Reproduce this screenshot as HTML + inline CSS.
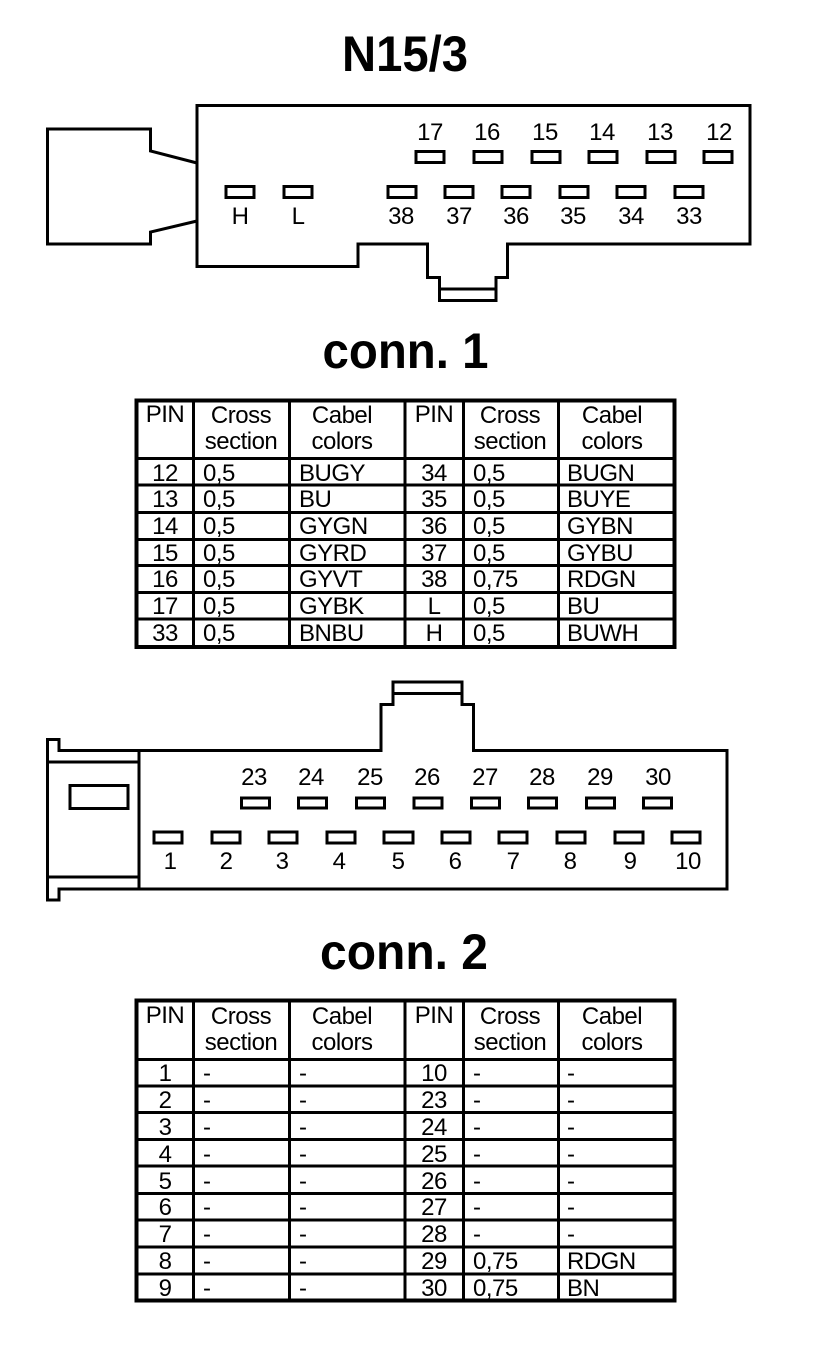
<!DOCTYPE html>
<html><head><meta charset="utf-8"><style>
html,body{margin:0;padding:0;background:#fff}
svg{display:block}
text{font-family:"Liberation Sans",Arial,sans-serif;font-size:24px;letter-spacing:-.5px;fill:#000;text-anchor:middle}
text.t{font-size:50px;font-weight:bold;letter-spacing:0}
text.l{text-anchor:start}
.s{fill:none;stroke:#000;stroke-width:3;stroke-linejoin:miter}
.g{stroke:#000;stroke-width:3;fill:none}
.b{fill:none;stroke:#000;stroke-width:4}
</style></head><body>
<svg width="816" height="1354" viewBox="0 0 816 1354" xmlns="http://www.w3.org/2000/svg">
<rect width="816" height="1354" fill="#fff"/>
<text class="t" x="405" y="71" textLength="126" lengthAdjust="spacingAndGlyphs">N15/3</text>
<text class="t" x="405.500" y="368" textLength="166" lengthAdjust="spacingAndGlyphs">conn. 1</text>
<text class="t" x="404" y="969" textLength="168" lengthAdjust="spacingAndGlyphs">conn. 2</text>

<!-- connector 1 -->
<path class="s" d="M197 105.500H750V244H507.500V277.500H496V300.500H439.500V277.500H427.500V244H358V266.500H197Z"/>
<path class="s" d="M439.500 289H496"/>
<path class="s" d="M197 163L150.500 151V129H47.500V244H150.500V232L197 221"/>
<g class="s">
<rect x="416" y="151.500" width="28" height="11"/><rect x="474" y="151.500" width="28" height="11"/><rect x="532" y="151.500" width="28" height="11"/><rect x="589" y="151.500" width="28" height="11"/><rect x="647" y="151.500" width="28" height="11"/><rect x="704" y="151.500" width="28" height="11"/>
<rect x="226" y="186.500" width="28" height="11"/><rect x="284" y="186.500" width="28" height="11"/><rect x="388" y="186.500" width="28" height="11"/><rect x="445" y="186.500" width="28" height="11"/><rect x="502" y="186.500" width="28" height="11"/><rect x="560" y="186.500" width="28" height="11"/><rect x="617" y="186.500" width="28" height="11"/><rect x="675" y="186.500" width="28" height="11"/>
</g>
<text x="430" y="140">17</text><text x="487" y="140">16</text><text x="545" y="140">15</text><text x="602" y="140">14</text><text x="660" y="140">13</text><text x="719" y="140">12</text>
<text x="240" y="224">H</text><text x="298" y="224">L</text><text x="401" y="224">38</text><text x="459" y="224">37</text><text x="516" y="224">36</text><text x="573" y="224">35</text><text x="631" y="224">34</text><text x="689" y="224">33</text>

<!-- table 1 -->
<rect class="b" x="136.500" y="400.500" width="538" height="246.500"/>
<path class="g" d="M193.500 400V647M289.500 400V647M405 400V647M463.500 400V647M558.500 400V647"/>
<path class="g" d="M136 458.500H675M136 485H675M136 512.500H675M136 539.500H675M136 565.500H675M136 592.500H675M136 619H675"/>
<g>
<text x="165" y="422">PIN</text><text x="241" y="423">Cross</text><text x="241" y="449">section</text><text x="342" y="423">Cabel</text><text x="342" y="449">colors</text>
<text x="434" y="422">PIN</text><text x="510" y="423">Cross</text><text x="510" y="449">section</text><text x="612" y="423">Cabel</text><text x="612" y="449">colors</text>

<text x="165" y="481">12</text><text class="l" x="203" y="481">0,5</text><text class="l" x="299" y="481">BUGY</text><text x="434" y="481">34</text><text class="l" x="473" y="481">0,5</text><text class="l" x="567" y="481">BUGN</text>
<text x="165" y="507">13</text><text class="l" x="203" y="507">0,5</text><text class="l" x="299" y="507">BU</text><text x="434" y="507">35</text><text class="l" x="473" y="507">0,5</text><text class="l" x="567" y="507">BUYE</text>
<text x="165" y="534">14</text><text class="l" x="203" y="534">0,5</text><text class="l" x="299" y="534">GYGN</text><text x="434" y="534">36</text><text class="l" x="473" y="534">0,5</text><text class="l" x="567" y="534">GYBN</text>
<text x="165" y="561">15</text><text class="l" x="203" y="561">0,5</text><text class="l" x="299" y="561">GYRD</text><text x="434" y="561">37</text><text class="l" x="473" y="561">0,5</text><text class="l" x="567" y="561">GYBU</text>
<text x="165" y="587">16</text><text class="l" x="203" y="587">0,5</text><text class="l" x="299" y="587">GYVT</text><text x="434" y="587">38</text><text class="l" x="473" y="587">0,75</text><text class="l" x="567" y="587">RDGN</text>
<text x="165" y="614">17</text><text class="l" x="203" y="614">0,5</text><text class="l" x="299" y="614">GYBK</text><text x="434" y="614">L</text><text class="l" x="473" y="614">0,5</text><text class="l" x="567" y="614">BU</text>
<text x="165" y="641">33</text><text class="l" x="203" y="641">0,5</text><text class="l" x="299" y="641">BNBU</text><text x="434" y="641">H</text><text class="l" x="473" y="641">0,5</text><text class="l" x="567" y="641">BUWH</text>
</g>

<!-- connector 2 -->
<path class="s" d="M47.500 739.500H59V750.500H381V704.500H393V682H462V704.500H473.500V750.500H727V889H59V900H47.500Z"/>
<path class="s" d="M393 693.500H462M47.500 762H139M47.500 877H139M139 750.500V889"/>
<rect class="s" x="70" y="785.500" width="58" height="23"/>
<g class="s">
<rect x="241.500" y="798" width="28" height="10"/><rect x="298.500" y="798" width="28" height="10"/><rect x="356.500" y="798" width="28" height="10"/><rect x="414" y="798" width="28" height="10"/><rect x="471.500" y="798" width="28" height="10"/><rect x="528.500" y="798" width="28" height="10"/><rect x="586.500" y="798" width="28" height="10"/><rect x="643.500" y="798" width="28" height="10"/>
<rect x="154" y="832" width="28" height="11"/><rect x="212" y="832" width="28" height="11"/><rect x="269" y="832" width="28" height="11"/><rect x="327" y="832" width="28" height="11"/><rect x="384" y="832" width="29" height="11"/><rect x="442" y="832" width="28" height="11"/><rect x="499" y="832" width="28" height="11"/><rect x="557" y="832" width="28" height="11"/><rect x="615" y="832" width="28" height="11"/><rect x="672" y="832" width="28" height="11"/>
</g>
<text x="254" y="785">23</text><text x="311" y="785">24</text><text x="370" y="785">25</text><text x="427" y="785">26</text><text x="485" y="785">27</text><text x="542" y="785">28</text><text x="600" y="785">29</text><text x="658" y="785">30</text>
<text x="170" y="869">1</text><text x="226" y="869">2</text><text x="282" y="869">3</text><text x="339" y="869">4</text><text x="398" y="869">5</text><text x="455" y="869">6</text><text x="513" y="869">7</text><text x="570" y="869">8</text><text x="630" y="869">9</text><text x="688" y="869">10</text>

<!-- table 2 -->
<rect class="b" x="136.500" y="1000.500" width="538" height="300"/>
<path class="g" d="M193.500 1000V1301M289.500 1000V1301M405 1000V1301M463.500 1000V1301M558.500 1000V1301"/>
<path class="g" d="M136 1059.500H675M136 1086H675M136 1112.500H675M136 1139.500H675M136 1166H675M136 1193.500H675M136 1220H675M136 1247H675M136 1274H675"/>
<g>
<text x="165" y="1023">PIN</text><text x="241" y="1024">Cross</text><text x="241" y="1050">section</text><text x="342" y="1024">Cabel</text><text x="342" y="1050">colors</text>
<text x="434" y="1023">PIN</text><text x="510" y="1024">Cross</text><text x="510" y="1050">section</text><text x="612" y="1024">Cabel</text><text x="612" y="1050">colors</text>

<text x="165" y="1081">1</text><text class="l" x="203" y="1081">-</text><text class="l" x="299" y="1081">-</text><text x="434" y="1081">10</text><text class="l" x="473" y="1081">-</text><text class="l" x="567" y="1081">-</text>
<text x="165" y="1108">2</text><text class="l" x="203" y="1108">-</text><text class="l" x="299" y="1108">-</text><text x="434" y="1108">23</text><text class="l" x="473" y="1108">-</text><text class="l" x="567" y="1108">-</text>
<text x="165" y="1135">3</text><text class="l" x="203" y="1135">-</text><text class="l" x="299" y="1135">-</text><text x="434" y="1135">24</text><text class="l" x="473" y="1135">-</text><text class="l" x="567" y="1135">-</text>
<text x="165" y="1162">4</text><text class="l" x="203" y="1162">-</text><text class="l" x="299" y="1162">-</text><text x="434" y="1162">25</text><text class="l" x="473" y="1162">-</text><text class="l" x="567" y="1162">-</text>
<text x="165" y="1189">5</text><text class="l" x="203" y="1189">-</text><text class="l" x="299" y="1189">-</text><text x="434" y="1189">26</text><text class="l" x="473" y="1189">-</text><text class="l" x="567" y="1189">-</text>
<text x="165" y="1215">6</text><text class="l" x="203" y="1215">-</text><text class="l" x="299" y="1215">-</text><text x="434" y="1215">27</text><text class="l" x="473" y="1215">-</text><text class="l" x="567" y="1215">-</text>
<text x="165" y="1242">7</text><text class="l" x="203" y="1242">-</text><text class="l" x="299" y="1242">-</text><text x="434" y="1242">28</text><text class="l" x="473" y="1242">-</text><text class="l" x="567" y="1242">-</text>
<text x="165" y="1269">8</text><text class="l" x="203" y="1269">-</text><text class="l" x="299" y="1269">-</text><text x="434" y="1269">29</text><text class="l" x="473" y="1269">0,75</text><text class="l" x="567" y="1269">RDGN</text>
<text x="165" y="1296">9</text><text class="l" x="203" y="1296">-</text><text class="l" x="299" y="1296">-</text><text x="434" y="1296">30</text><text class="l" x="473" y="1296">0,75</text><text class="l" x="567" y="1296">BN</text>
</g>
</svg>
</body></html>
